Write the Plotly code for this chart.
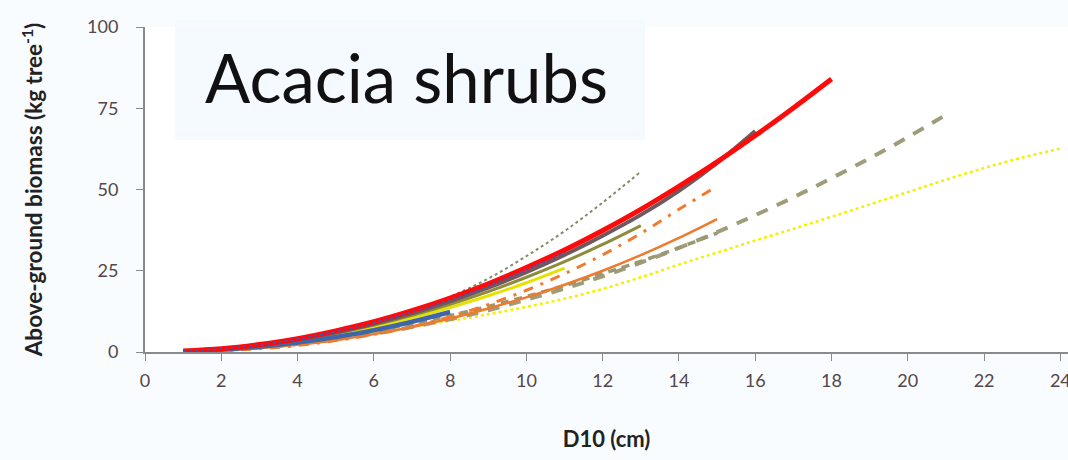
import plotly.graph_objects as go

# ---- data ----
x18 = list(range(1, 19))
red_solid = [0.3, 1.0, 2.3, 4.1, 6.5, 9.3, 12.7, 16.6, 21.0, 26.0, 31.4, 37.4, 43.9, 51.0, 58.5, 66.6, 75.1, 84.0]

x16 = list(range(1, 17))
gray_solid = [0.2, 0.9, 2.1, 3.8, 6.0, 8.7, 11.9, 15.6, 19.8, 24.6, 29.9, 35.8, 42.2, 49.6, 58.2, 68.0]

x8 = list(range(1, 9))
blue_solid = [0.2, 0.7, 1.6, 2.9, 4.6, 6.7, 9.3, 12.3]

x11 = list(range(1, 12))
purple_dot = [0.3, 1.0, 2.2, 4.0, 6.3, 9.0, 12.3, 16.1, 20.4, 25.3, 30.5]
yellow_solid = [0.2, 0.8, 1.9, 3.4, 5.3, 7.7, 10.5, 13.7, 17.3, 21.3, 25.8]

x13 = list(range(1, 14))
olive_solid = [0.2, 0.9, 2.1, 3.7, 5.8, 8.3, 11.3, 14.7, 18.6, 23.0, 27.8, 33.1, 38.9]
olive_dot = [0.1, 0.6, 1.7, 3.3, 5.6, 8.6, 12.3, 17.0, 22.6, 29.5, 37.2, 46.0, 55.5]

x15 = list(range(1, 16))
orange_dashdot = [0.1, 0.4, 1.0, 2.0, 3.5, 5.4, 7.8, 10.9, 14.6, 19.0, 24.1, 29.9, 36.5, 43.9, 51.0]
orange_solid = [0.1, 0.5, 1.2, 2.2, 3.6, 5.5, 7.7, 10.3, 13.4, 16.8, 20.7, 25.0, 29.8, 35.1, 40.9]
gray_dash_short = [0.2, 0.8, 1.8, 3.0, 4.6, 6.5, 8.7, 11.2, 14.0, 17.1, 20.4, 24.1, 27.9, 32.1, 36.6]

x21 = list(range(1, 22))
gray_dash_long = [0.15, 0.6, 1.4, 2.5, 4.0, 5.6, 7.7, 10.1, 12.8, 16.1, 19.5, 23.3, 27.5, 32.0, 36.9,
                  42.1, 47.6, 53.5, 59.6, 66.1, 73.0]

x24 = list(range(1, 25))
yellow_dot = [0.3, 1.0, 2.0, 3.2, 4.6, 6.1, 7.8, 9.6, 11.6, 13.9, 16.4, 19.4, 23.0, 26.9, 30.6, 34.3,
              37.9, 41.6, 45.4, 49.2, 53.0, 56.6, 59.8, 62.6]

x_ticks = list(range(0, 25, 2))
y_ticks = [0, 25, 50, 75, 100]

series = [
    (x24, yellow_dot, "#f5ef00", 2.5, "dot"),
    (x21, gray_dash_long, "#9f9c7a", 4, "12px,10px"),
    (x15, gray_dash_short, "#9a9776", 3.5, "8px,6px"),
    (x15, orange_solid, "#ee7a2e", 2.5, "solid"),
    (x15, orange_dashdot, "#ef7b30", 3, "10px,8px,3px,8px"),
    (x11, yellow_solid, "#e5e200", 3, "solid"),
    (x13, olive_solid, "#8e8c3c", 3, "solid"),
    (x13, olive_dot, "#8a876a", 2, "dot"),
    (x8, blue_solid, "#3e66a8", 4.5, "solid"),
    (x16, gray_solid, "#6e5a5e", 4, "solid"),
    (x18, red_solid, "#ff0a0a", 5, "solid"),
    (x11, purple_dot, "#5a4c9c", 2, "dot"),
]

fig = go.Figure()
for xs, ys, col, w, dash in series:
    fig.add_trace(go.Scatter(x=xs, y=ys, mode="lines", line=dict(color=col, width=w, dash=dash, shape="spline"),
                             showlegend=False, hoverinfo="skip"))

fig.update_layout(
    width=1068, height=460,
    margin=dict(l=145, r=0, t=27, b=108, autoexpand=False),
    paper_bgcolor="#f9fcff",
    plot_bgcolor="white",
    font=dict(family="Lato, Open Sans, sans-serif", color="#403838"),
    xaxis=dict(range=[0, 24.2], tickvals=x_ticks, ticks="outside", ticklen=7, tickcolor="#8a8a8a",
               showline=True, linecolor="#8a8a8a", linewidth=2, showgrid=False, zeroline=False,
               tickfont=dict(size=18, color="#54464a"), ticklabelstandoff=4, automargin=False,
               ticklabeloverflow="allow",
               title=dict(text="<b>D10 (cm)</b>", font=dict(size=22, color="#222222"), standoff=42)),
    yaxis=dict(range=[0, 100], tickvals=y_ticks, ticks="outside", ticklen=7, tickcolor="#8a8a8a",
               showline=True, linecolor="#8a8a8a", linewidth=2, showgrid=False, zeroline=False,
               tickfont=dict(size=18, color="#54464a"), ticklabelstandoff=14, automargin=False,
               title=dict(text="<b>Above-ground biomass (kg tree<sup>-1</sup>)</b>",
                          font=dict(size=22.5, color="#222222"), standoff=38)),
    shapes=[dict(type="rect", xref="paper", yref="paper", x0=0.0325, x1=0.5417, y0=0.652, y1=1.0215,
                 fillcolor="#f4faff", line=dict(width=0), layer="below")],
    annotations=[
        dict(text="Acacia shrubs", xref="paper", yref="paper", x=0.2828, y=0.846, xanchor="center",
             yanchor="middle", showarrow=False, font=dict(size=67, color="#111111", family="Lato, sans-serif")),
    ],
)

fig.write_html("out.html", config={"displayModeBar": False},
               post_script="document.body.style.margin='0';document.body.style.overflow='hidden';")
